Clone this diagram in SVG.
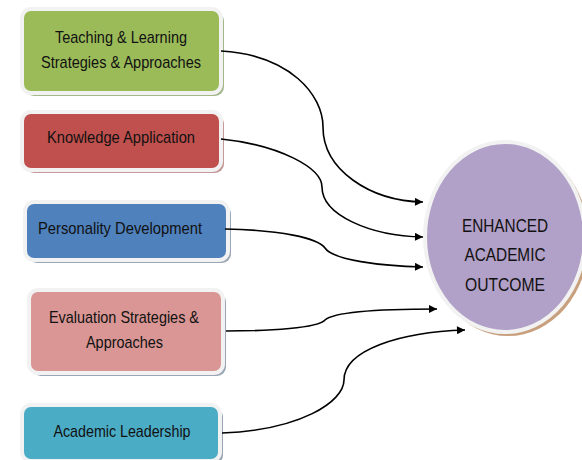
<svg xmlns="http://www.w3.org/2000/svg" width="582" height="460" viewBox="0 0 582 460">
<style>
.box{stroke:#F2F2F2;stroke-width:4}
.t{font-family:"Liberation Sans",Arial,sans-serif;font-size:17px;fill:#111;text-anchor:middle}
.e{font-family:"Liberation Sans",Arial,sans-serif;font-size:19px;fill:#111;text-anchor:middle}
.c{fill:none;stroke:#000;stroke-width:1.6}
</style>
<defs>
<marker id="ah" viewBox="0 0 10 10" refX="10" refY="5" markerWidth="9" markerHeight="8" markerUnits="userSpaceOnUse" orient="auto">
<path d="M0,0 L10,5 L0,10 z" fill="#000"/>
</marker>
</defs>
<rect width="582" height="460" fill="#fff"/>
<g id="n1">
<rect x="25" y="12" width="199" height="84" rx="9" fill="#A3B78A"/>
<rect class="box" x="22" y="9" width="199" height="84" rx="9" fill="#9BBB59"/>
<text class="t" x="121" y="43" textLength="132" lengthAdjust="spacingAndGlyphs">Teaching &amp; Learning</text>
<text class="t" x="121" y="68" textLength="160" lengthAdjust="spacingAndGlyphs">Strategies &amp; Approaches</text>
</g>
<g id="n2">
<rect x="25" y="115" width="199" height="58" rx="9" fill="#C49A99"/>
<rect class="box" x="22" y="112" width="199" height="58" rx="9" fill="#C0504D"/>
<text class="t" x="121" y="143" textLength="148" lengthAdjust="spacingAndGlyphs">Knowledge Application</text>
</g>
<g id="n3">
<rect x="28" y="205" width="203" height="58" rx="9" fill="#9AA6B6"/>
<rect class="box" x="25" y="202" width="203" height="58" rx="9" fill="#4F81BD"/>
<text class="t" x="120" y="234" textLength="164" lengthAdjust="spacingAndGlyphs">Personality Development</text>
</g>
<g id="n4">
<rect x="32" y="293" width="194" height="83" rx="9" fill="#9AA6B6"/>
<rect class="box" x="29" y="290" width="194" height="83" rx="9" fill="#D99694"/>
<text class="t" x="124" y="323" textLength="150" lengthAdjust="spacingAndGlyphs">Evaluation Strategies &amp;</text>
<text class="t" x="124.5" y="348" textLength="77" lengthAdjust="spacingAndGlyphs">Approaches</text>
</g>
<g id="n5">
<rect x="25" y="408" width="198" height="56" rx="9" fill="#9AA6B6"/>
<rect class="box" x="22" y="405" width="198" height="56" rx="9" fill="#4BACC6"/>
<text class="t" x="122" y="437" textLength="137" lengthAdjust="spacingAndGlyphs">Academic Leadership</text>
</g>
<g id="n6">
<ellipse cx="508" cy="240" rx="81" ry="96" fill="#C8A07E"/>
<ellipse class="box" cx="505" cy="237" rx="80" ry="95" fill="#B1A0C7"/>
<text class="e" x="505" y="232" textLength="86" lengthAdjust="spacingAndGlyphs">ENHANCED</text>
<text class="e" x="505" y="261" textLength="81" lengthAdjust="spacingAndGlyphs">ACADEMIC</text>
<text class="e" x="505" y="291" textLength="80" lengthAdjust="spacingAndGlyphs">OUTCOME</text>
</g>
<g id="connectors">
<path class="c" marker-end="url(#ah)" d="M221,51 C290,55 323,95 323,127 C323,170 370,201 423,202"/>
<path class="c" marker-end="url(#ah)" d="M221,139 C280,145 322,168 322,187 C322,215 370,236 423,237"/>
<path class="c" marker-end="url(#ah)" d="M225,229 C280,230 318,238 325,248 C333,260 380,266 423,267"/>
<path class="c" marker-end="url(#ah)" d="M226,331 C270,331 318,328 325,320 C335,311 390,309 437,309"/>
<path class="c" marker-end="url(#ah)" d="M222,433 C300,430 344,402 344,380 C344,350 400,332 465,330"/>
</g>
</svg>
